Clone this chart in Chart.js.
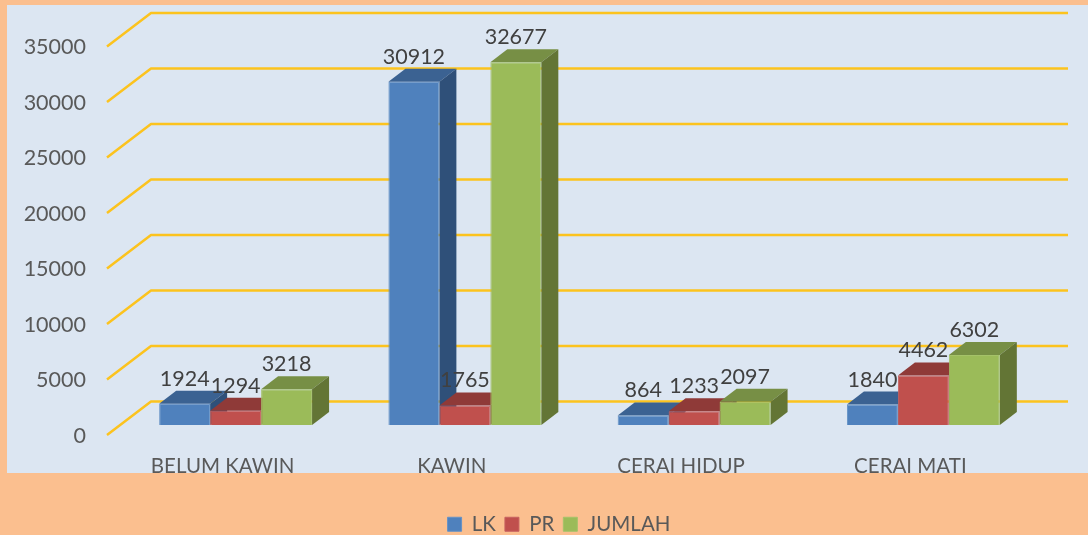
<!DOCTYPE html>
<html>
<head>
<meta charset="utf-8">
<style>
html, body { margin: 0; padding: 0; background: #fbbf8f; }
#wrap { width: 1088px; height: 535px; }
</style>
<script src="https://cdn.jsdelivr.net/npm/chart.js@4"></script>
</head>
<body>
<div id="wrap"><canvas id="myChart" width="1088" height="535"></canvas></div>
<script>
var categories = ['BELUM KAWIN', 'KAWIN', 'CERAI HIDUP', 'CERAI MATI'];
var lk = [1924, 30912, 864, 1840];
var pr = [1294, 1765, 1233, 4462];
var jumlah = [3218, 32677, 2097, 6302];
var seriesNames = ['LK', 'PR', 'JUMLAH'];

var fontFamily = 'Lato, "Open Sans", sans-serif';
var orange = '#fbbf8f';
var panel = '#dce6f2';
var gridColor = '#fcc31e';
var front = ['#4f81bd', '#c0504d', '#9bbb59'];
var topFace = ['#3b6292', '#8f3a38', '#778f45'];
var sideFace = ['#2f5079', '#7a2f2d', '#637535'];
var edge = ['#6592c6', '#c66260', '#a5c269'];

// depth of the bars and of the back wall, in pixels
var barDx = 17, barDy = -13;
var wallLeft = 107, wallDx = 44, wallDy = -33.5, wallFront = 10, gridEnd = 1068;
var legendShift = 40;

function poly(ctx, pts, color) {
    ctx.fillStyle = color;
    ctx.beginPath();
    ctx.moveTo(pts[0][0], pts[0][1]);
    for (var i = 1; i < pts.length; i++) ctx.lineTo(pts[i][0], pts[i][1]);
    ctx.closePath();
    ctx.fill();
}

var scene = {
    id: 'scene',
    afterLayout: function (chart) {
        // legend sits right of the chart centre in the picture
        chart.legend.left += legendShift;
        chart.legend.right += legendShift;
    },
    beforeDraw: function (chart) {
        var ctx = chart.ctx;
        ctx.save();
        ctx.fillStyle = orange;
        ctx.fillRect(0, 0, chart.width, chart.height);
        ctx.fillStyle = panel;
        ctx.fillRect(7, 5, chart.width - 7, 468);
        ctx.restore();
    },
    beforeDatasetsDraw: function (chart) {
        var ctx = chart.ctx;
        var y = chart.scales.y;
        ctx.save();

        // the axis labels run under the lower band, as in the picture
        ctx.fillStyle = orange;
        ctx.fillRect(0, 473, chart.width, chart.height - 473);
        chart.legend.draw();

        ctx.strokeStyle = gridColor;
        ctx.lineWidth = 2.5;
        ctx.lineJoin = 'round';
        y.ticks.forEach(function (t) {
            var py = y.getPixelForValue(t.value) + wallFront;
            ctx.beginPath();
            ctx.moveTo(wallLeft, py);
            ctx.lineTo(wallLeft + wallDx, py + wallDy);
            ctx.lineTo(gridEnd, py + wallDy);
            ctx.stroke();
        });

        // top and right faces, the fronts come from the bar elements
        chart.data.datasets.forEach(function (ds, i) {
            chart.getDatasetMeta(i).data.forEach(function (bar) {
                var l = bar.x - bar.width / 2, r = bar.x + bar.width / 2;
                poly(ctx, [[l, bar.y], [r, bar.y], [r + barDx, bar.y + barDy], [l + barDx, bar.y + barDy]], topFace[i]);
                poly(ctx, [[r, bar.y], [r + barDx, bar.y + barDy], [r + barDx, bar.base + barDy], [r, bar.base]], sideFace[i]);
            });
        });
        ctx.restore();
    },
    afterDatasetsDraw: function (chart) {
        var ctx = chart.ctx;
        ctx.save();
        ctx.font = '21.5px ' + fontFamily;
        ctx.fillStyle = '#404040';
        ctx.textAlign = 'center';
        ctx.textBaseline = 'middle';
        chart.data.datasets.forEach(function (ds, i) {
            chart.getDatasetMeta(i).data.forEach(function (bar, j) {
                ctx.fillText(String(ds.data[j]), bar.x, bar.y - 25);
            });
        });
        ctx.restore();
    }
};

var ctx = document.getElementById('myChart');

new Chart(ctx, {
    type: 'bar',
    data: {
        labels: categories,
        datasets: [lk, pr, jumlah].map(function (values, i) {
            return {
                label: seriesNames[i],
                data: values,
                backgroundColor: front[i],
                borderColor: edge[i],
                borderWidth: 1,
                categoryPercentage: 0.667,
                barPercentage: 1
            };
        })
    },
    plugins: [scene],
    options: {
        responsive: false,
        animation: false,
        layout: { padding: { top: 36.4, right: 50, left: 0, bottom: -9.5 } },
        scales: {
            y: {
                min: 0,
                max: 35000,
                afterFit: function (s) {
                    s.width = 121;
                    s.paddingTop = 0;
                    s.paddingBottom = 0;
                },
                grid: { display: false, tickLength: 0 },
                border: { display: false },
                ticks: {
                    stepSize: 5000,
                    padding: 35,
                    labelOffset: 11,
                    color: '#595959',
                    font: { family: fontFamily, size: 21.5 },
                    callback: function (v) { return String(v); }
                }
            },
            x: {
                afterFit: function (s) { s.height = 80; },
                grid: { display: false, tickLength: 0 },
                border: { display: false },
                ticks: {
                    padding: 29,
                    labelOffset: -13,
                    maxRotation: 0,
                    color: '#595959',
                    font: { family: fontFamily, size: 20.5 }
                }
            }
        },
        plugins: {
            tooltip: { enabled: false },
            legend: {
                position: 'bottom',
                labels: {
                    boxWidth: 14,
                    boxHeight: 14,
                    padding: 9,
                    color: '#595959',
                    font: { family: fontFamily, size: 20.5 }
                }
            }
        }
    }
});
</script>
</body>
</html>
